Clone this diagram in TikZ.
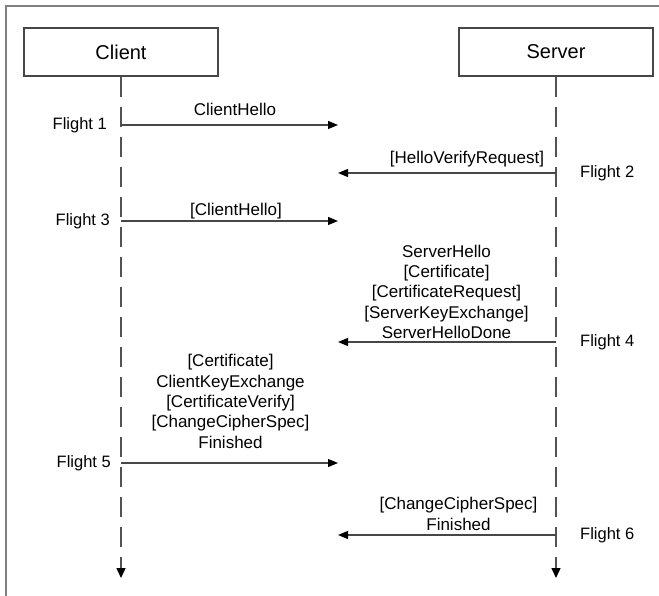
\documentclass[tikz,border=0pt]{standalone}
\usepackage{fontspec}
\setmainfont{Liberation Sans}
\usetikzlibrary{arrows.meta}

\begin{document}
\begin{tikzpicture}[x=1pt,y=-1pt,
  frameline/.style={draw=black!50, line width=2pt},
  actor/.style={draw=black!72, line width=1.5pt, minimum width=194pt,
    minimum height=48pt, inner sep=0pt, text=black,
    font=\fontsize{20}{24}\selectfont},
  lifeline/.style={draw=black!68, line width=1.4pt,
    dash pattern=on 20pt off 10pt,
    -{Triangle[length=10pt,width=9pt,color=black]}},
  msg/.style={draw=black!72, line width=1.2pt,
    -{Triangle[length=10pt,width=8pt,color=black]}},
  msglabel/.style={align=center, inner sep=0pt, anchor=base, text=black,
    font=\fontsize{17}{20.3}\selectfont},
  flightL/.style={inner sep=0pt, anchor=base east, text=black,
    font=\fontsize{16.5}{20}\selectfont},
  flightR/.style={inner sep=0pt, anchor=base west, text=black,
    font=\fontsize{16.5}{20}\selectfont}]

\useasboundingbox (0,0) rectangle (659,596);

% outer frame (top and left edges)
\coordinate (fa) at (6,596);
\coordinate (fb) at (6,6);
\coordinate (fc) at (659,6);
\draw[frameline] (fa) -- (fb) -- (fc);

% participants
\node[actor] (client) at (121,52) {Client};
\node[actor] (server) at (556,52) {Server};

% lifelines
\coordinate (cend) at (121,578);
\coordinate (send) at (556,578);
\draw[lifeline] (client.south) -- (cend);
\draw[lifeline] (server.south) -- (send);

% labels are placed by the baseline of their last line

% Flight 1
\coordinate (c1) at (121,125); \coordinate (t1) at (338,125);
\draw[msg] (c1) -- (t1);
\node[msglabel] (m1) at (235,116) {ClientHello};
\node[flightL] (f1) at (107,129.5) {Flight 1};

% Flight 2
\coordinate (s2) at (556,173); \coordinate (t2) at (338,173);
\draw[msg] (s2) -- (t2);
\node[msglabel] (m2) at (467,164) {[HelloVerifyRequest]};
\node[flightR] (f2) at (580,177.5) {Flight 2};

% Flight 3
\coordinate (c3) at (121,221); \coordinate (t3) at (338,221);
\draw[msg] (c3) -- (t3);
\node[msglabel] (m3) at (236,216) {[ClientHello]};
\node[flightL] (f3) at (110,225.5) {Flight 3};

% Flight 4
\coordinate (s4) at (556,342); \coordinate (t4) at (338,342);
\draw[msg] (s4) -- (t4);
\node[msglabel] (m4) at (446.5,338.5) {ServerHello\\{}[Certificate]\\{}[CertificateRequest]\\{}[ServerKeyExchange]\\ServerHelloDone};
\node[flightR] (f4) at (580,346.5) {Flight 4};

% Flight 5
\coordinate (c5) at (121,463); \coordinate (t5) at (338,463);
\draw[msg] (c5) -- (t5);
\node[msglabel] (m5) at (230.5,448) {[Certificate]\\ClientKeyExchange\\{}[CertificateVerify]\\{}[ChangeCipherSpec]\\Finished};
\node[flightL] (f5) at (111,467.5) {Flight 5};

% Flight 6
\coordinate (s6) at (556,535); \coordinate (t6) at (338,535);
\draw[msg] (s6) -- (t6);
\node[msglabel] (m6) at (458.5,530) {[ChangeCipherSpec]\\Finished};
\node[flightR] (f6) at (580,539.5) {Flight 6};

\end{tikzpicture}
\end{document}
